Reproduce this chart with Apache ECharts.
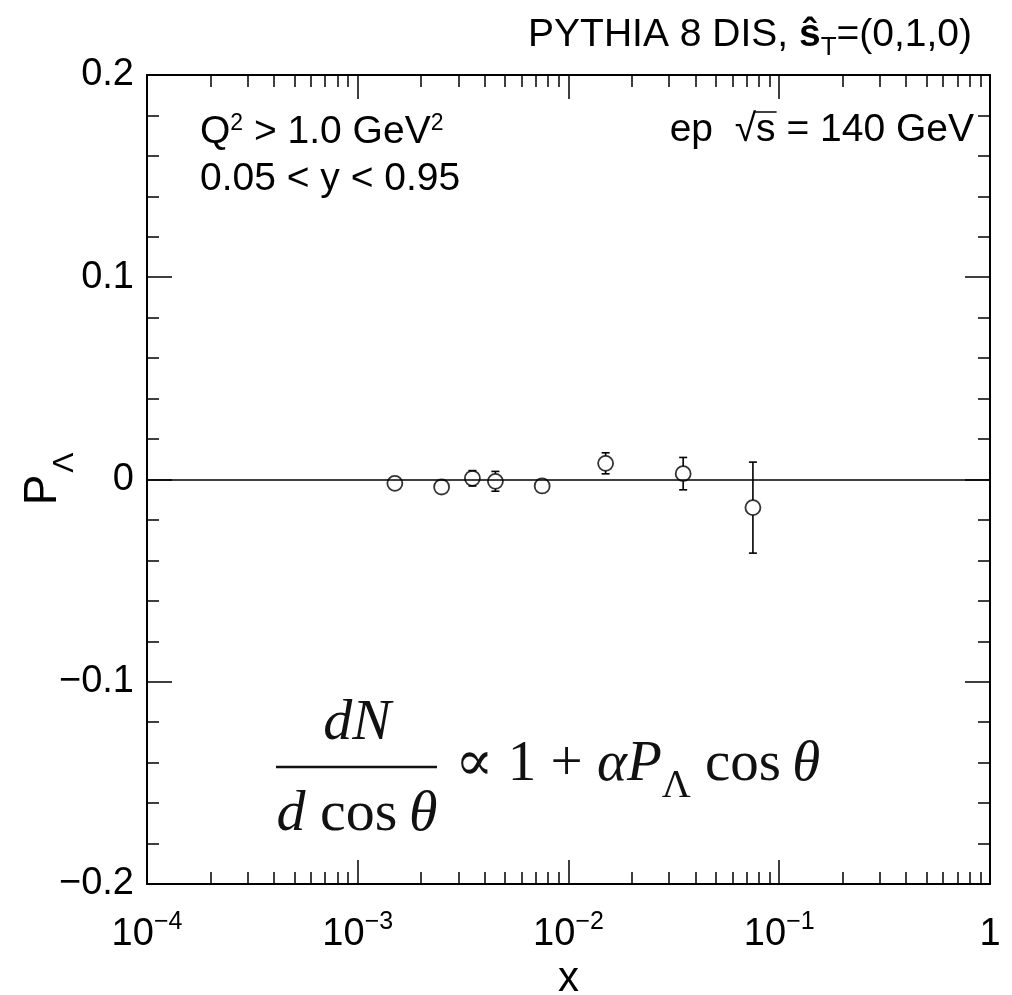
<!DOCTYPE html>
<html>
<head>
<meta charset="utf-8">
<script src="https://cdn.jsdelivr.net/npm/echarts@6/dist/echarts.min.js"></script>
<style>
  html, body { margin: 0; padding: 0; background: #fff; }
  #chart { width: 1012px; height: 995px; }
</style>
</head>
<body>
<div id="chart"></div>
<script>
// values
var xValues = [0.0015, 0.0025, 0.0035, 0.0045, 0.0075, 0.015, 0.035, 0.075];
var pValues = [-0.0019, -0.0037, 0.0006, -0.0009, -0.0032, 0.0080, 0.0029, -0.0139];
var pErrors = [0.0015, 0.0025, 0.0038, 0.0049, 0.0025, 0.0052, 0.0080, 0.0225];
var xMajorTicks = [1e-4, 1e-3, 1e-2, 1e-1, 1];
var xMinorSteps = [2, 3, 4, 5, 6, 7, 8, 9];

var xMinorTicks = [];
xMajorTicks.slice(0, -1).forEach(function (d) {
  xMinorSteps.forEach(function (m) { xMinorTicks.push(d * m); });
});

var points = xValues.map(function (x, i) { return [x, pValues[i], pErrors[i]]; });

var sans = "'Liberation Sans', Arial, Helvetica, sans-serif";
var serif = "'Liberation Serif', 'Times New Roman', 'DejaVu Serif', serif";
var fs = 39;

// width of the text after the root sign, to put the bar over the s
var ctx = document.createElement('canvas').getContext('2d');
ctx.font = fs + 'px ' + sans;
var tailW = ctx.measureText('s = 140 GeV').width;
var sW = ctx.measureText('s').width;
var epRight = 974, epBase = 144;

function xLabel (v) {
  var e = Math.round(Math.log10(v));
  if (e === 0) return '{n|1}';
  return '{n|10}{s|\u2212' + Math.abs(e) + '}';
}

function logAxis (pos, major, withLabels) {
  return {
    type: 'log',
    logBase: 10,
    position: pos,
    min: 1e-4,
    max: 1,
    axisLine: { show: major, onZero: false, lineStyle: { color: '#000', width: 2 } },
    axisTick: {
      show: true,
      inside: true,
      length: major ? 24 : 12,
      customValues: major ? xMajorTicks : xMinorTicks,
      lineStyle: { color: '#000', width: 1.5 }
    },
    axisLabel: {
      show: withLabels,
      customValues: xMajorTicks,
      margin: 26,
      formatter: xLabel,
      rich: {
        n: { fontFamily: sans, fontSize: 38, color: '#000', lineHeight: 44, verticalAlign: 'bottom' },
        s: { fontFamily: sans, fontSize: 25, color: '#000', lineHeight: 25, verticalAlign: 'top' }
      }
    },
    splitLine: { show: false },
    name: withLabels ? 'x' : '',
    nameLocation: 'middle',
    nameGap: 65,
    nameTextStyle: { fontFamily: sans, fontSize: 42, color: '#000' }
  };
}

function linAxis (pos, withLabels) {
  return {
    type: 'value',
    position: pos,
    min: -0.2,
    max: 0.2,
    interval: 0.1,
    axisLine: { show: true, onZero: false, lineStyle: { color: '#000', width: 2 } },
    axisTick: { show: true, inside: true, length: 25, lineStyle: { color: '#000', width: 1.5 } },
    minorTick: { show: true, splitNumber: 5, length: 12, lineStyle: { color: '#000', width: 1.5 } },
    splitLine: { show: false },
    axisLabel: {
      show: withLabels,
      margin: 13,
      fontFamily: sans,
      fontSize: 38,
      color: '#000',
      formatter: function (v) {
        if (Math.abs(v) < 1e-9) return '0';
        return (v < 0 ? '\u2212' : '') + Math.abs(v).toFixed(1);
      }
    }
  };
}

var chart = echarts.init(document.getElementById('chart'), null, { renderer: 'canvas' });

var option = {
  backgroundColor: '#fff',
  animation: false,
  grid: { left: 147, top: 75, width: 843, height: 809, containLabel: false, outerBoundsMode: 'none' },
  xAxis: [
    logAxis('bottom', true, true),
    logAxis('bottom', false, false),
    logAxis('top', true, false),
    logAxis('top', false, false)
  ],
  yAxis: [linAxis('left', true), linAxis('right', false)],
  graphic: [
    {
      type: 'text', x: 972, y: 35,
      style: {
        text: '{a|PYTHIA 8 DIS, }{h|\u015D}{t|T}{a|=(0,1,0)}',
        align: 'right', verticalAlign: 'middle',
        rich: {
          a: { fontFamily: sans, fontSize: fs, lineHeight: 44, fill: '#000' },
          h: { fontFamily: sans, fontSize: fs, fontWeight: 'bold', lineHeight: 44, fill: '#000' },
          t: { fontFamily: sans, fontSize: 26, lineHeight: 26, verticalAlign: 'top', padding: [22, 0, 0, 0], fill: '#000' }
        }
      }
    },
    {
      type: 'text', x: 200, y: 132,
      style: {
        text: '{a|Q}{s|2}{a| > 1.0 GeV}{s|2}',
        align: 'left', verticalAlign: 'middle',
        rich: {
          a: { fontFamily: sans, fontSize: fs, lineHeight: 44, fill: '#000' },
          s: { fontFamily: sans, fontSize: 23, lineHeight: 23, verticalAlign: 'top', padding: [2, 0, 0, 0], fill: '#000' }
        }
      }
    },
    {
      type: 'text', x: 200, y: 179,
      style: { text: '0.05 < y < 0.95', align: 'left', verticalAlign: 'middle', fontFamily: sans, fontSize: fs, fill: '#000' }
    },
    {
      type: 'text', x: epRight, y: epBase - 13.5,
      style: {
        text: 'ep  \u221As = 140 GeV',
        align: 'right', verticalAlign: 'middle',
        fontFamily: sans, fontSize: fs, fill: '#000'
      }
    },
    {
      type: 'line',
      shape: { x1: epRight - tailW - 1, y1: epBase - 32, x2: epRight - tailW + sW + 1, y2: epBase - 32 },
      style: { stroke: '#000', lineWidth: 1.5 }
    },
    {
      type: 'text', x: 43, y: 479, rotation: Math.PI / 2,
      style: {
        text: '{p|P}{s|\u039B}',
        align: 'center', verticalAlign: 'middle',
        rich: {
          p: { fontFamily: sans, fontSize: 46, lineHeight: 46, fill: '#000' },
          s: { fontFamily: sans, fontSize: 30, lineHeight: 30, verticalAlign: 'top', padding: [30, 0, 0, 2], fill: '#000' }
        }
      }
    },
    {
      type: 'text', x: 357, y: 724,
      style: { text: 'dN', align: 'center', verticalAlign: 'middle', fontFamily: serif, fontStyle: 'italic', fontSize: 58, fill: '#111' }
    },
    {
      type: 'line', shape: { x1: 276, y1: 767, x2: 437, y2: 767 },
      style: { stroke: '#111', lineWidth: 2.5 }
    },
    {
      type: 'text', x: 357, y: 815,
      style: {
        text: '{i|d}{r| cos\u2009}{i|\u03B8}',
        align: 'center', verticalAlign: 'middle',
        rich: {
          i: { fontFamily: serif, fontStyle: 'italic', fontSize: 58, fill: '#111' },
          r: { fontFamily: serif, fontSize: 58, fill: '#111' }
        }
      }
    },
    {
      type: 'text', x: 455, y: 765,
      style: {
        text: '{r|\u221D 1 + }{i|\u03B1P}{s|\u039B}{r| cos\u2009}{i|\u03B8}',
        align: 'left', verticalAlign: 'middle',
        rich: {
          i: { fontFamily: serif, fontStyle: 'italic', fontSize: 57, lineHeight: 57, fill: '#111' },
          r: { fontFamily: serif, fontSize: 57, lineHeight: 57, fill: '#111' },
          s: { fontFamily: serif, fontSize: 40, lineHeight: 40, verticalAlign: 'top', padding: [30, 0, 0, 0], fill: '#111' }
        }
      }
    }
  ],
  series: [
    {
      type: 'custom',
      xAxisIndex: 0,
      yAxisIndex: 0,
      data: points,
      silent: true,
      z: 3,
      renderItem: function (params, api) {
        var x = api.value(0), y = api.value(1), e = api.value(2);
        var c = api.coord([x, y]);
        var hi = api.coord([x, y + e]);
        var lo = api.coord([x, y - e]);
        var r = 7.5, cap = 4;
        var st = { stroke: '#000', lineWidth: 1.6 };
        var kids = [];
        if (c[1] - hi[1] > r) {
          kids.push({ type: 'line', shape: { x1: c[0], y1: c[1] - r, x2: c[0], y2: hi[1] }, style: st });
          kids.push({ type: 'line', shape: { x1: c[0] - cap, y1: hi[1], x2: c[0] + cap, y2: hi[1] }, style: st });
        }
        if (lo[1] - c[1] > r) {
          kids.push({ type: 'line', shape: { x1: c[0], y1: c[1] + r, x2: c[0], y2: lo[1] }, style: st });
          kids.push({ type: 'line', shape: { x1: c[0] - cap, y1: lo[1], x2: c[0] + cap, y2: lo[1] }, style: st });
        }
        return { type: 'group', children: kids };
      }
    },
    {
      type: 'scatter',
      xAxisIndex: 0,
      yAxisIndex: 0,
      data: points,
      symbol: 'circle',
      symbolSize: 15,
      z: 4,
      itemStyle: { color: 'rgba(0,0,0,0)', borderColor: '#000', borderWidth: 1.8 },
      markLine: {
        silent: true,
        symbol: 'none',
        label: { show: false },
        lineStyle: { color: '#000', width: 1.5, type: 'solid' },
        data: [{ yAxis: 0 }]
      }
    }
  ]
};

chart.setOption(option);
</script>
</body>
</html>
